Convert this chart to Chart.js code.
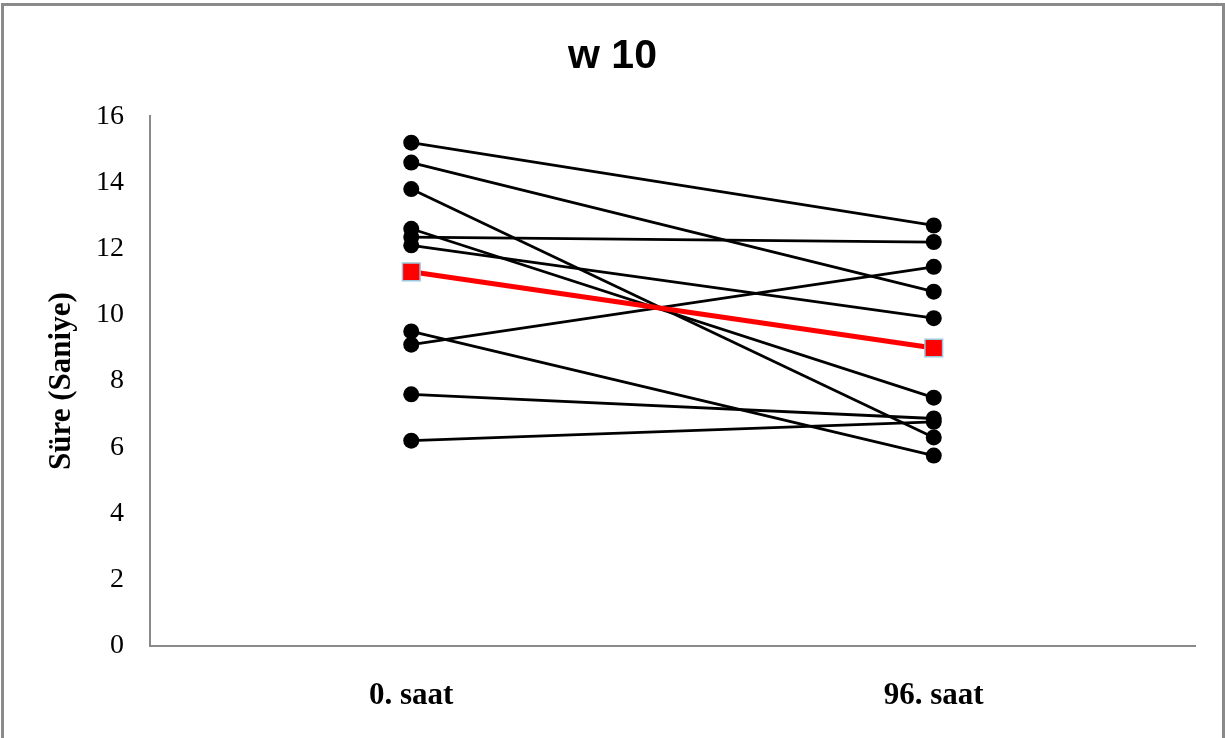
<!DOCTYPE html>
<html>
<head>
<meta charset="utf-8">
<script src="https://cdn.jsdelivr.net/npm/chart.js@4.4.1/dist/chart.umd.min.js"></script>
<style>
  body { margin: 0; background: #fff; overflow: hidden; }
  #wrap { position: relative; width: 1225px; height: 738px; }
  #frame { position: absolute; left: 1px; top: 3px; width: 1218px; height: 760px; border: 3px solid #8a8a8a; pointer-events: none; }
</style>
</head>
<body>
<div id="wrap">
  <canvas id="canv" width="1225" height="738"></canvas>
  <div id="frame"></div>
</div>
<script>
const categories = ["0. saat", "96. saat"]
// each subject: value at 0. saat and at 96. saat
const saat0 = [15.2, 14.6, 13.8, 12.6, 12.35, 12.1, 9.5, 9.1, 7.6, 6.2]
const saat96 = [12.7, 10.7, 6.3, 7.5, 12.2, 9.9, 5.75, 11.45, 6.87, 6.77]
// mean line (red)
const ortalama = [11.3, 9.0]
const yTicks = [0, 2, 4, 6, 8, 10, 12, 14, 16]

let datasets = saat0.map((v, i) => ({
  label: "s" + (i + 1),
  data: [v, saat96[i]],
  borderColor: "black",
  borderWidth: 2.8,
  pointRadius: 8,
  pointBackgroundColor: "black",
  pointBorderColor: "black",
  pointBorderWidth: 0,
  order: 2
}))

datasets.push({
  label: "ortalama",
  data: ortalama,
  borderColor: "#ff0000",
  borderWidth: 5,
  pointStyle: "rect",
  pointRadius: 12.5,
  pointBackgroundColor: "#ff0000",
  pointBorderColor: "#9cc6dc",
  pointBorderWidth: 1.5,
  order: 1
})

new Chart(document.getElementById("canv"), {
  type: "line",
  data: { labels: categories, datasets: datasets },
  options: {
    responsive: false,
    animation: false,
    devicePixelRatio: 1,
    layout: { padding: 0 },
    plugins: {
      legend: { display: false },
      tooltip: { enabled: false },
      title: {
        display: true,
        text: "w 10",
        color: "black",
        font: { family: "'Liberation Sans', Arial, sans-serif", size: 41, weight: "bold" },
        padding: { top: 32, bottom: 35 }
      }
    },
    scales: {
      x: {
        offset: true,
        grid: { display: false },
        border: { color: "#8a8a8a", width: 2 },
        ticks: {
          color: "black",
          padding: 23,
          font: { family: "'Liberation Serif', 'Times New Roman', serif", size: 31, weight: "bold" }
        },
        afterFit: (s) => { s.height = 92 }
      },
      y: {
        min: 0,
        max: 16,
        grid: { display: false },
        border: { color: "#8a8a8a", width: 2 },
        afterBuildTicks: (s) => { s.ticks = yTicks.map(v => ({ value: v })) },
        ticks: {
          color: "black",
          padding: 18,
          font: { family: "'Liberation Serif', 'Times New Roman', serif", size: 28 }
        },
        title: {
          display: true,
          text: "Süre (Saniye)",
          color: "black",
          padding: { top: 43, bottom: 0 },
          font: { family: "'Liberation Serif', 'Times New Roman', serif", size: 31, weight: "bold" }
        },
        afterFit: (s) => { s.width = 150 }
      },
      // empty right gutter so the plot ends where the reference's does
      pad: {
        type: "linear",
        position: "right",
        display: true,
        grid: { display: false },
        border: { display: false },
        ticks: { display: false },
        afterFit: (s) => { s.width = 30 }
      }
    }
  }
})
</script>
</body>
</html>
